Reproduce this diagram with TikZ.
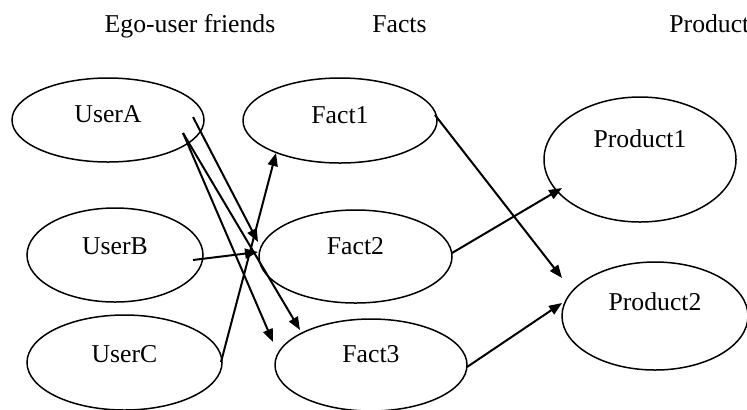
\documentclass[tikz,border=0pt]{standalone}
\usepackage{fontspec}
\setmainfont{Liberation Serif}
\usetikzlibrary{shapes.geometric,arrows.meta,calc}
\tikzset{
  ell/.style n args={3}{ellipse, draw, line width=0.75pt, inner sep=0pt,
    minimum width=#1pt, minimum height=#2pt, font=\fontsize{12.85}{14}\selectfont,
    text height=8.5pt, text depth=#3pt},
  hdr/.style={anchor=base, font=\fontsize{12.85}{14}\selectfont, inner sep=0pt},
  arr/.style={-{Triangle[length=6.5pt,width=5pt]}, line width=1pt}
}
\begin{document}
\begin{tikzpicture}[x=0.5pt,y=-0.5pt]
\useasboundingbox (0,0) rectangle (747,409);
% headers
\node[hdr] (h1) at (190,32) {Ego-user friends};
\node[hdr] (h2) at (399.5,32) {Facts};
\node[hdr, anchor=base west] (h3) at (669,32) {Product};
% nodes
\node[ell={96}{42}{6}] (usera) at (108,120) {UserA};
\node[ell={97}{42.5}{6}] (fact1) at (340,120.5) {Fact1};
\node[ell={88}{47}{9}] (userb) at (115,255) {UserB};
\node[ell={96.5}{46.5}{11}] (fact2) at (355.5,256.5) {Fact2};
\node[ell={97.5}{47.5}{9}] (userc) at (124.5,362.5) {UserC};
\node[ell={96}{46}{11}] (fact3) at (371,365) {Fact3};
\node[ell={96}{62.5}{21}] (product1) at (640,159.5) {Product1};
\node[ell={93}{54}{14}] (product2) at (655,316) {Product2};
% connectors
\draw[arr] ($(usera)+(85,-3)$) -- ($(fact2)+(-97.5,-14.5)$);
\draw[arr] ($(usera)+(75,13)$) -- ($(fact3)+(-98,-23)$);
\draw[arr] ($(usera)+(75,13)$) -- ($(fact3)+(-71,-35)$);
\draw[arr] ($(userc)+(96.5,-0.5)$) -- ($(fact1)+(-64,32.5)$);
\draw[arr] ($(userb)+(78,5)$) -- ($(fact2)+(-97.5,-4.5)$);
\draw[arr] ($(fact1)+(95,-5.5)$) -- ($(product2)+(-93,-38)$);
\draw[arr] ($(fact2)+(96.5,-3.5)$) -- ($(product1)+(-78,28.5)$);
\draw[arr] ($(fact3)+(96,2)$) -- ($(product2)+(-93,-13)$);
\end{tikzpicture}
\end{document}
